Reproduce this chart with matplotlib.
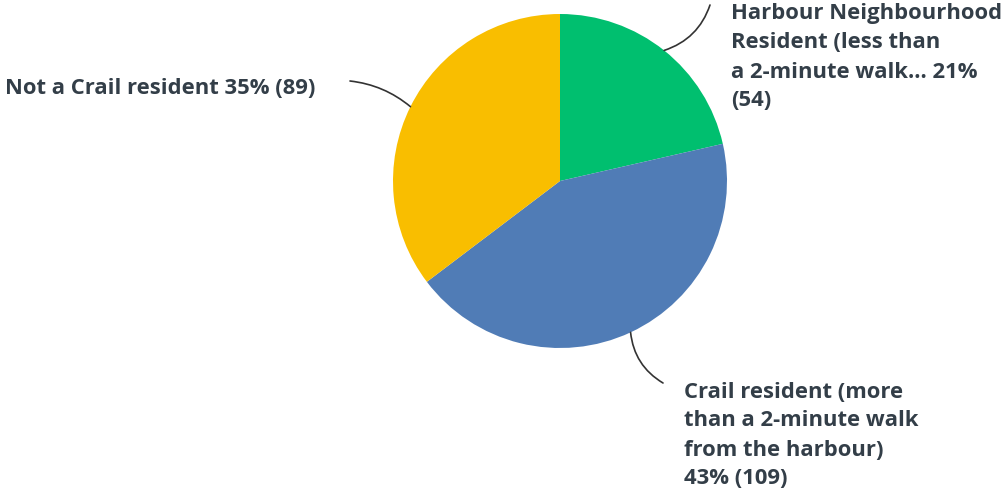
import numpy as np
import matplotlib
matplotlib.use("Agg")
import matplotlib.pyplot as plt

# answer counts
labels = ["Harbour Neighbourhood Resident (less than a 2-minute walk...",
          "Crail resident (more than a 2-minute walk from the harbour)",
          "Not a Crail resident"]
counts = [54, 109, 89]
percents = [21, 43, 35]
colors = ["#00bf6f", "#507cb6", "#f9be00"]

# how each label is broken into lines on the chart
label_lines = [
    ["Harbour Neighbourhood", "Resident (less than", "a 2-minute walk... 21%", "(54)"],
    ["Crail resident (more", "than a 2-minute walk", "from the harbour)", "43% (109)"],
    ["Not a Crail resident 35% (89)"],
]

W, H = 1008, 496
fig = plt.figure(figsize=(W / 100, H / 100), dpi=100)
ax = fig.add_axes([0, 0, 1, 1])

cx, cy, r = 560, H - 181, 167
wedges, _ = ax.pie(counts, colors=colors, startangle=90, counterclock=False,
                   center=(cx, cy), radius=r, wedgeprops=dict(linewidth=0),
                   frame=True)
ax.set_xlim(0, W)
ax.set_ylim(0, H)
ax.set_aspect("equal")
ax.axis("off")

txt_color = "#333e48"
font = dict(family="Open Sans", weight="bold", fontsize=15.8, color=txt_color)
line_h = 29

# text anchor (left x, first line centre y) and leader end, rad of curve
layout = [
    dict(x=731, y=14, end=(710, 5), rad=-0.25),
    dict(x=684, y=392, end=(663, 383), rad=-0.25),
    dict(x=5, y=89, end=(350, 81), rad=-0.15),
]

for w, lines, lay in zip(wedges, label_lines, layout):
    mid = np.deg2rad((w.theta1 + w.theta2) / 2)
    px, py = cx + r * np.cos(mid), cy + r * np.sin(mid)
    for i, ln in enumerate(lines):
        ax.text(lay["x"], H - (lay["y"] + i * line_h), ln, ha="left", va="center", **font)
    ex, ey = lay["end"]
    ax.annotate("", xy=(px, py), xytext=(ex, H - ey),
                arrowprops=dict(arrowstyle="-", color="#333333", lw=1.2,
                                shrinkA=0, shrinkB=0,
                                connectionstyle="arc3,rad=%s" % lay["rad"]))

fig.savefig("out.png", dpi=100, facecolor="white")
